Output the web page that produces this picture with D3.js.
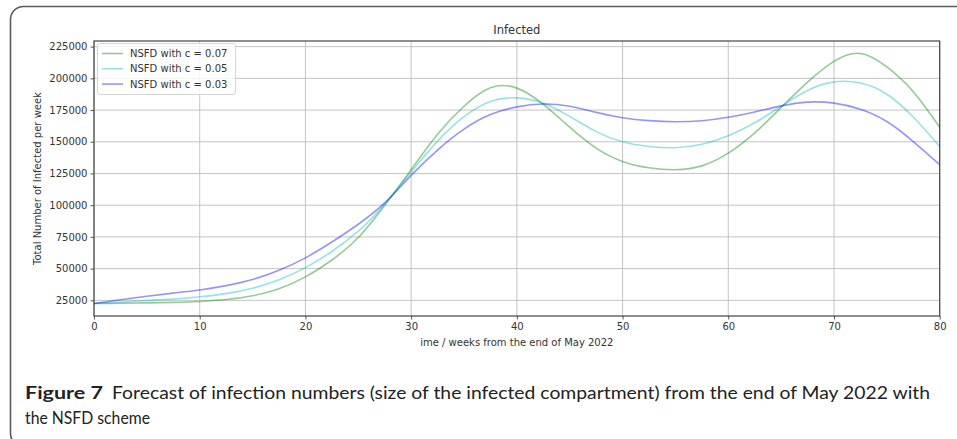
<!DOCTYPE html>
<html>
<head>
<meta charset="utf-8">
<script src="https://cdn.jsdelivr.net/npm/d3@7"></script>
<style>
  html, body { margin: 0; padding: 0; background: #fff; }
  svg { display: block; }
</style>
</head>
<body>
<svg id="chart" width="957" height="439"></svg>
<script>
// Weeks from the end of May 2022
const weeks = [0, 2.5, 5, 7.5, 10, 12.5, 15, 17.5, 20, 22.5, 25, 27.5, 30, 32.5, 35, 37.5, 40,
               42.5, 45, 47.5, 50, 52.5, 55, 57.5, 60, 62.5, 65, 67.5, 70, 72.5, 75, 77.5, 80];

// Size of the infected compartment, NSFD scheme
const infectedC007 = [22500, 22700, 23000, 23400, 24100, 25600, 28600, 34200, 43500, 56800, 74500, 100000,
                      128000, 156000, 178000, 192500, 192300, 179500, 161500, 145000, 134500, 129500,
                      128000, 131000, 141000, 157000, 177000, 197000, 213400, 219600, 209000, 189500, 161500];
const infectedC005 = [22500, 23600, 24800, 26100, 27800, 30300, 34500, 41200, 50800, 63500, 79500, 100800,
                      126000, 150500, 169800, 181800, 184600, 180400, 170000, 158000, 150000, 146300,
                      145300, 148000, 154800, 165000, 178000, 190500, 197200, 196300, 187500, 169500, 146300];
const infectedC003 = [22500, 25500, 28200, 30700, 33200, 36600, 41400, 48700, 58500, 71000, 85000, 101800,
                      123500, 143500, 160000, 171500, 177500, 179800, 178000, 173200, 169000, 166700,
                      165800, 166600, 169300, 173500, 178300, 181300, 180500, 175700, 166000, 150200, 132000];

const seriesNames = ["NSFD with c = 0.07", "NSFD with c = 0.05", "NSFD with c = 0.03"];
const seriesColors = ["#008000", "#00bfbf", "#0000ff"];

const xTicks = [0, 10, 20, 30, 40, 50, 60, 70, 80];
const yTicks = [25000, 50000, 75000, 100000, 125000, 150000, 175000, 200000, 225000];

const chartTitle = "Infected";
const xLabel = "ime / weeks from the end of May 2022";
const yLabel = "Total Number of Infected per week";
const captionBold = "Figure 7";
const captionLine1 = "Forecast of infection numbers (size of the infected compartment) from the end of May 2022 with";
const captionLine2 = "the NSFD scheme";

const svg = d3.select("#chart");

// Panel frame
svg.append("rect")
  .attr("x", 10.5).attr("y", 6.5)
  .attr("width", 1000).attr("height", 440)
  .attr("rx", 13).attr("ry", 13)
  .attr("fill", "none")
  .attr("stroke", "#5a5a5a")
  .attr("stroke-width", 1.6);

const plot = { left: 94, right: 939.7, top: 41, bottom: 316 };

const allSeries = [infectedC007, infectedC005, infectedC003];
const lo = d3.min(allSeries, s => d3.min(s));
const hi = d3.max(allSeries, s => d3.max(s));
const pad = (hi - lo) * 0.05;

const x = d3.scaleLinear().domain([0, 80]).range([plot.left, plot.right]);
const y = d3.scaleLinear().domain([lo - pad, hi + pad]).range([plot.bottom, plot.top]);

const font = "'DejaVu Sans', sans-serif";

// Grid
const grid = svg.append("g").attr("stroke", "#c4c4c4").attr("stroke-width", 1);
xTicks.forEach(t => grid.append("line")
  .attr("x1", x(t)).attr("x2", x(t)).attr("y1", plot.top).attr("y2", plot.bottom));
yTicks.forEach(t => grid.append("line")
  .attr("x1", plot.left).attr("x2", plot.right).attr("y1", y(t)).attr("y2", y(t)));

// Lines
const line = d3.line()
  .x((d, i) => x(weeks[i]))
  .y(d => y(d))
  .curve(d3.curveNatural);

allSeries.forEach((s, i) => {
  svg.append("path")
    .datum(s)
    .attr("d", line)
    .attr("fill", "none")
    .attr("stroke", seriesColors[i])
    .attr("stroke-opacity", 0.42)
    .attr("stroke-width", 1.6);
});

// Axes
const xAxis = svg.append("g")
  .attr("transform", `translate(0,${plot.bottom})`)
  .call(d3.axisBottom(x).tickValues(xTicks).tickSize(3.5).tickPadding(3).tickFormat(d3.format("d")));
const yAxis = svg.append("g")
  .attr("transform", `translate(${plot.left},0)`)
  .call(d3.axisLeft(y).tickValues(yTicks).tickSize(3.5).tickPadding(3).tickFormat(d3.format("d")));
[xAxis, yAxis].forEach(a => {
  a.select(".domain").remove();
  a.selectAll(".tick line").attr("stroke", "#444").attr("stroke-width", 0.9);
  a.selectAll(".tick text").attr("fill", "#333").style("font-family", font).style("font-size", "10px");
});

// Spines
svg.append("rect")
  .attr("x", plot.left).attr("y", plot.top)
  .attr("width", plot.right - plot.left).attr("height", plot.bottom - plot.top)
  .attr("fill", "none").attr("stroke", "#444").attr("stroke-width", 1.2);

// Title and axis labels
svg.append("text")
  .attr("x", (plot.left + plot.right) / 2).attr("y", 34)
  .attr("text-anchor", "middle")
  .style("font-family", font).style("font-size", "11.5px").attr("fill", "#333")
  .text(chartTitle);

svg.append("text")
  .attr("x", (plot.left + plot.right) / 2).attr("y", 346)
  .attr("text-anchor", "middle")
  .style("font-family", font).style("font-size", "10px").attr("fill", "#333")
  .text(xLabel);

svg.append("text")
  .attr("transform", `translate(41,${(plot.top + plot.bottom) / 2}) rotate(-90)`)
  .attr("text-anchor", "middle")
  .style("font-family", font).style("font-size", "10px").attr("fill", "#333")
  .text(yLabel);

// Legend
const legend = svg.append("g");
legend.append("rect")
  .attr("x", 97.5).attr("y", 43.5).attr("width", 138).attr("height", 51)
  .attr("rx", 2.5)
  .attr("fill", "#fff").attr("fill-opacity", 0.8)
  .attr("stroke", "#d6d6d6").attr("stroke-width", 1);
seriesNames.forEach((name, i) => {
  const cy = 53.5 + i * 15.3;
  legend.append("line")
    .attr("x1", 102).attr("x2", 123).attr("y1", cy).attr("y2", cy)
    .attr("stroke", seriesColors[i]).attr("stroke-opacity", 0.42).attr("stroke-width", 1.6);
  legend.append("text")
    .attr("x", 130).attr("y", cy + 3.6)
    .style("font-family", font).style("font-size", "10px").attr("fill", "#333")
    .text(name);
});

// Caption
const capFont = "Lato, 'Noto Sans', sans-serif";
svg.append("text")
  .attr("x", 25).attr("y", 399)
  .attr("textLength", 78).attr("lengthAdjust", "spacingAndGlyphs")
  .style("font-family", capFont).style("font-size", "16.5px").style("font-weight", "bold")
  .attr("fill", "#222")
  .text(captionBold);
svg.append("text")
  .attr("x", 112).attr("y", 399)
  .attr("textLength", 818).attr("lengthAdjust", "spacingAndGlyphs")
  .style("font-family", capFont).style("font-size", "16.5px")
  .attr("fill", "#222")
  .text(captionLine1);
svg.append("text")
  .attr("x", 25).attr("y", 424)
  .attr("textLength", 125).attr("lengthAdjust", "spacingAndGlyphs")
  .style("font-family", capFont).style("font-size", "16.5px")
  .attr("fill", "#222")
  .text(captionLine2);
</script>
</body>
</html>
